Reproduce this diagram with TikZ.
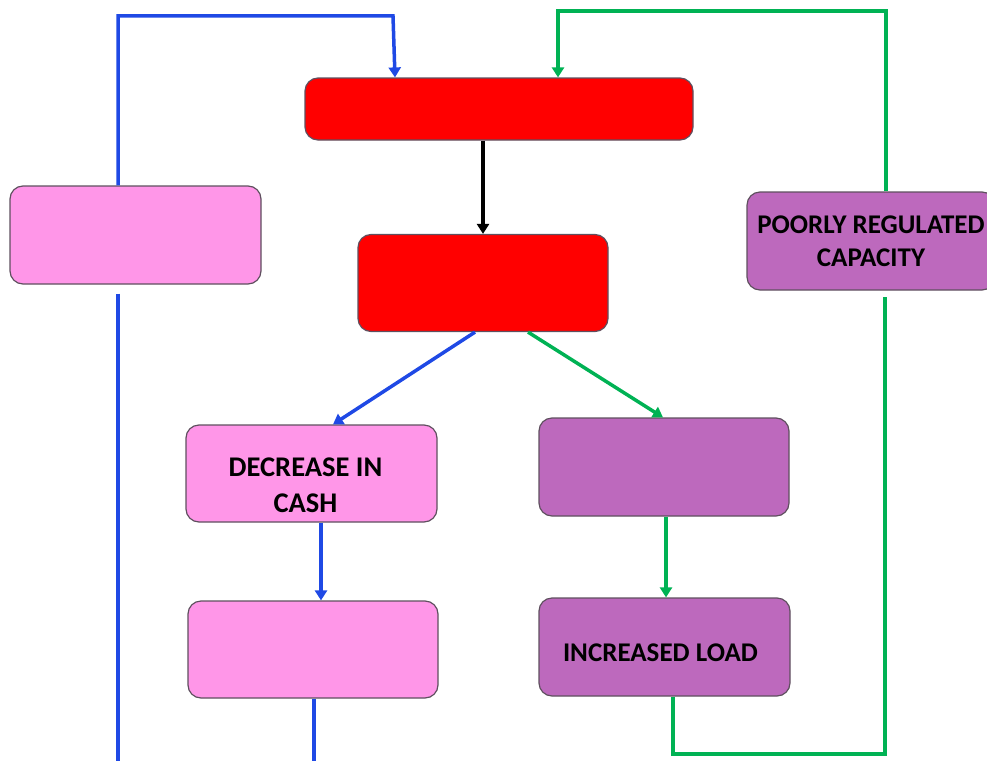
\documentclass[tikz,border=0pt]{standalone}
\usepackage{fontspec}
\setmainfont{Carlito}
\usetikzlibrary{arrows.meta}
\definecolor{cblue}{RGB}{31,73,229}
\definecolor{cgreen}{RGB}{0,178,84}
\definecolor{cpink}{RGB}{255,150,232}
\definecolor{cpurple}{RGB}{189,105,189}
\definecolor{cred}{RGB}{255,0,0}
\definecolor{cedge}{RGB}{95,80,95}
\tikzset{
  box/.style={draw=cedge, line width=1.2pt, rounded corners=13pt, minimum width=250pt, minimum height=97pt, inner sep=0pt, align=center, font=\fontsize{27}{33}\selectfont\bfseries},
  redbox/.style={box, fill=cred},
  pinkbox/.style={box, fill=cpink},
  purplebox/.style={box, fill=cpurple},
  conn/.style={line width=3.5pt, -{Triangle[length=10pt,width=12pt]}},
  plain/.style={line width=3.5pt}
}
\begin{document}
\begin{tikzpicture}[x=1pt,y=-1pt]
\useasboundingbox (0,0) rectangle (987,760);
\begin{scope}
\clip (0,0) rectangle (987,760);
\node[redbox, minimum width=388pt, minimum height=62pt] (top) at (499,109) {};
\node[redbox] (red2) at (483,283) {};
\node[pinkbox, minimum width=251pt, minimum height=98pt] (lft) at (135.5,235) {};
\node[purplebox, minimum width=248pt, minimum height=98pt] (poor) at (871,241) {POORLY REGULATED\\CAPACITY};
\node[pinkbox, minimum width=251pt, font=\fontsize{28.5}{36}\selectfont\bfseries] (dec) at (311.5,473.5) {\hspace*{-12pt}\rule{0pt}{42pt}DECREASE IN\\\hspace*{-12pt}CASH};
\node[pinkbox] (pb) at (313,649.5) {};
\node[purplebox, minimum height=98pt] (pm) at (664,467) {};
\node[purplebox, minimum width=251pt, minimum height=98pt] (inc) at (664.5,647) {\hspace*{-8pt}\rule{0pt}{29pt}INCREASED LOAD};

\coordinate (b1) at (118,16);
\coordinate (b2) at (393,16);
\coordinate (b4) at (118,762);
\coordinate (g1) at (885,754);
\coordinate (g2) at (558,11);

% blue loop
\draw[cblue, conn] (lft.north -| b1) -- (b1) -- (b2) -- ([xshift=-104pt]top.north);
\draw[cblue, plain] ([yshift=-9pt]lft.south -| b4) -- (b4);
\draw[cblue, plain] ([xshift=1pt]pb.south) -- ([xshift=1pt]pb.south |- b4);
% black
\draw[black, conn] (top.south -| red2.north) -- (red2.north);
% diagonals
\draw[cblue, conn] ([xshift=-8pt]red2.south) -- ([xshift=21.5pt]dec.north);
\draw[cgreen, conn] ([xshift=45pt]red2.south) -- ([xshift=-1pt]pm.north);
% verticals
\draw[cblue, conn] ([xshift=9.5pt]dec.south) -- ([xshift=9.5pt]dec.south |- pb.north);
\draw[cgreen, conn] ([xshift=2pt]pm.south) -- ([xshift=2pt]pm.south |- inc.north);
% green loop
\draw[cgreen, plain] ([xshift=8.5pt]inc.south) |- (g1) -- ([yshift=-6pt]poor.south -| g1);
\draw[cgreen, conn] ([xshift=15pt]poor.north) |- (g2) -- (g2 |- top.north);
\end{scope}
\end{tikzpicture}
\end{document}
